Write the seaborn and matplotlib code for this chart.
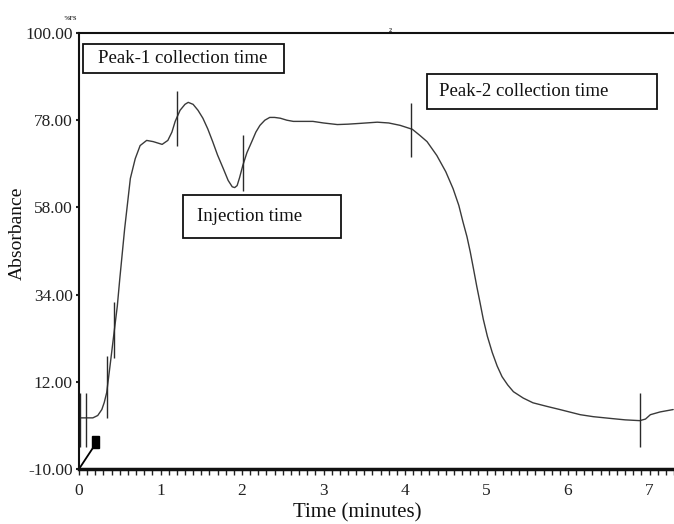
import matplotlib
matplotlib.use("Agg")
import matplotlib.pyplot as plt
from matplotlib.patches import Rectangle
from matplotlib.ticker import MultipleLocator
import seaborn as sns
import pandas as pd

# ---- data ----
time_min = [0.00, 0.10, 0.17, 0.23, 0.28, 0.31, 0.34, 0.38, 0.42, 0.47, 0.50, 0.56,
            0.63, 0.69, 0.75, 0.83, 0.91, 1.02, 1.09, 1.14, 1.18, 1.24, 1.30, 1.34,
            1.40, 1.46, 1.52, 1.58, 1.64, 1.70, 1.77, 1.83, 1.88, 1.91, 1.94, 1.97,
            2.01, 2.06, 2.12, 2.17, 2.22, 2.28, 2.34, 2.40, 2.47, 2.55, 2.63, 2.75,
            2.87, 3.00, 3.17, 3.30, 3.45, 3.66, 3.80, 3.94, 4.09, 4.18, 4.27, 4.39,
            4.50, 4.59, 4.66, 4.71, 4.76, 4.80, 4.84, 4.88, 4.92, 4.96, 5.01, 5.07,
            5.13, 5.19, 5.26, 5.33, 5.45, 5.57, 5.74, 5.90, 6.15, 6.31, 6.55, 6.70,
            6.88, 6.95, 7.01, 7.13, 7.29]
absorbance = [2.9, 2.9, 2.9, 3.5, 5.0, 6.8, 9.3, 15.9, 22.7, 31.1, 37.9, 50.6,
              63.3, 68.3, 71.6, 72.9, 72.6, 71.9, 72.9, 75.0, 77.7, 80.5, 82.0, 82.5,
              82.0, 80.5, 78.5, 75.8, 72.6, 69.2, 65.8, 62.8, 61.2, 61.0, 61.5, 63.5,
              66.6, 69.8, 72.6, 75.0, 76.7, 78.0, 78.7, 78.7, 78.5, 78.0, 77.7, 77.7,
              77.7, 77.3, 76.9, 77.0, 77.2, 77.5, 77.3, 76.7, 75.7, 74.2, 72.6, 69.1,
              65.0, 60.7, 56.5, 52.4, 48.6, 44.8, 40.5, 36.1, 32.0, 27.8, 23.5, 19.4,
              16.0, 13.3, 11.2, 9.5, 7.9, 6.7, 5.8, 5.0, 3.7, 3.2, 2.7, 2.4,
              2.2, 2.6, 3.7, 4.4, 5.0]

# event marks (time, low, high)
mark_time = [0.01, 0.086, 0.34, 0.43, 1.20, 2.01, 4.07, 6.88]
mark_low = [-4.4, -4.4, 2.9, 18.1, 71.6, 60.2, 68.8, -4.4]
mark_high = [9.3, 9.3, 18.4, 32.1, 85.3, 74.2, 82.3, 9.3]

y_ticks = [-10, 12, 34, 56, 78, 100]
y_tick_labels = ["-10.00", "12.00", "34.00", "58.00", "78.00", "100.00"]
x_ticks = [0, 1, 2, 3, 4, 5, 6, 7]

labels = ["Peak-1 collection time", "Peak-2 collection time", "Injection time"]

sns.set_style("ticks")
plt.rcParams["font.family"] = ["Liberation Serif", "DejaVu Serif"]

fig = plt.figure(figsize=(6.74, 5.24), dpi=100)
ax = fig.add_axes([79 / 674, 1 - 469 / 524, 1 - 79 / 674, (469 - 33) / 524])

df = pd.DataFrame({"t": time_min, "a": absorbance})
sns.lineplot(data=df, x="t", y="a", sort=False, color="#3a3a3a", linewidth=1.0, ax=ax)

ax.vlines(mark_time, mark_low, mark_high, color="#2a2a2a", linewidth=1.0)

# small injection flag near origin
ax.plot([0.0, 0.17], [-10, -4.7], color="black", linewidth=1.3, clip_on=False)
ax.add_patch(Rectangle((0.16, -4.6), 0.085, 3.0, facecolor="black", edgecolor="black"))

ax.set_xlim(0, 7.3)
ax.set_ylim(-10, 100)
ax.set_yticks(y_ticks)
ax.set_yticklabels(y_tick_labels)
ax.set_xticks(x_ticks)
ax.set_xticklabels([str(v) for v in x_ticks])
ax.xaxis.set_minor_locator(MultipleLocator(0.1))

ax.tick_params(axis="y", length=2.5, width=1.5, pad=2, labelsize=12.5, colors="#222222")
ax.tick_params(axis="x", which="major", length=4, width=1.0, pad=6, labelsize=12.5, colors="#222222")
ax.tick_params(axis="x", which="minor", length=4, width=1.0, colors="#222222")

for side in ["left", "top"]:
    ax.spines[side].set_linewidth(1.5)
    ax.spines[side].set_color("#111111")
ax.spines["bottom"].set_linewidth(2.5)
ax.spines["bottom"].set_color("#111111")
ax.spines["right"].set_visible(False)

ax.set_xlabel("Time (minutes)", fontsize=15, color="#111111")
ax.set_ylabel("Absorbance", fontsize=14, color="#111111")
ax.xaxis.set_label_coords(0.467, -0.079)
ax.yaxis.set_label_coords(-0.089, 0.54)

# annotation boxes
boxes = [(0.049, 89.9, 2.466, 7.3), (4.27, 80.7, 2.82, 8.9), (1.28, 48.3, 1.93, 10.9)]
text_pos = [(0.23, 93.6), (4.42, 85.2), (1.45, 53.7)]
for (bx, by, bw, bh), (tx, ty), lab in zip(boxes, text_pos, labels):
    ax.add_patch(Rectangle((bx, by), bw, bh, facecolor="white", edgecolor="#111111",
                           linewidth=1.3, zorder=3))
    ax.text(tx, ty, lab, fontsize=13.5, va="center", ha="left", color="#111111", zorder=4)

# small header marks
fig.text(70 / 674, 1 - 18 / 524, "%FS", fontsize=4.5, fontweight="bold", ha="center", va="center")
fig.text(390 / 674, 1 - 30 / 524, "2", fontsize=4.5, fontweight="bold", ha="center", va="center")

fig.savefig("out.png", dpi=100)
